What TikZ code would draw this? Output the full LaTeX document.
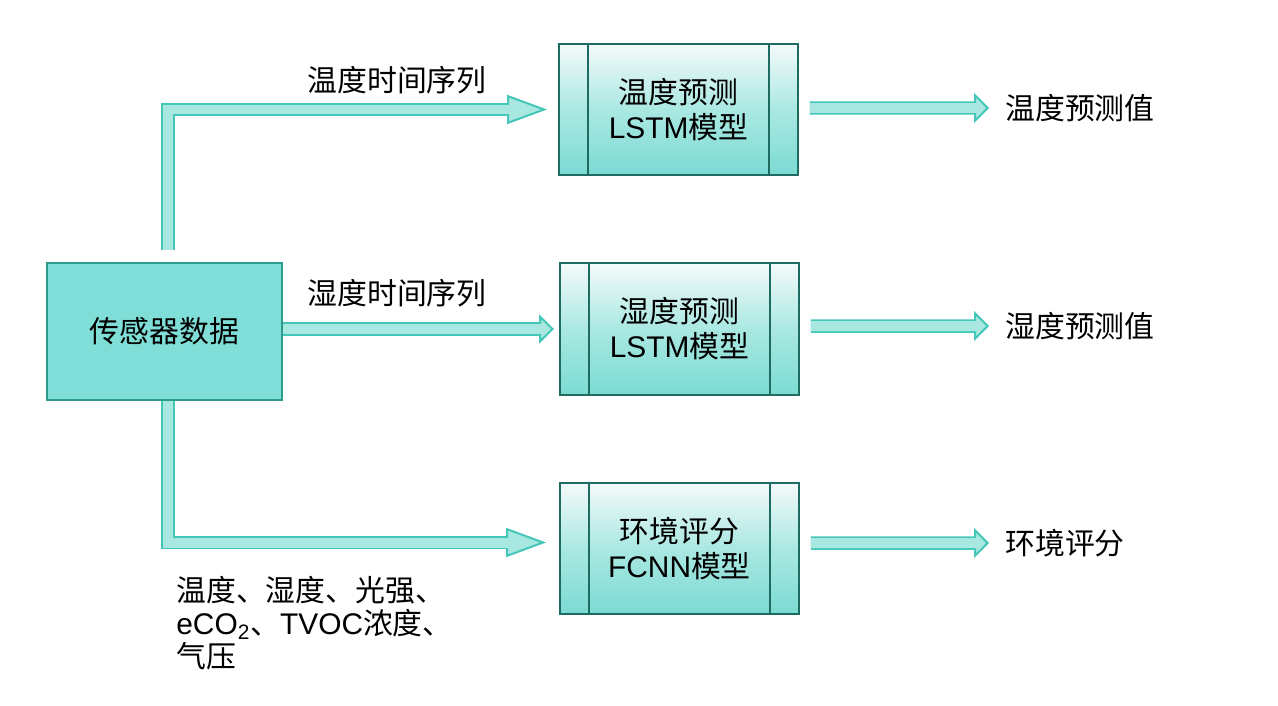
\documentclass[tikz,border=0pt]{standalone}
\usepackage{fontspec}
\setmainfont{Liberation Sans}
\newfontfamily\cjk{Noto Sans CJK SC}
\usepackage{tikz}
\usetikzlibrary{arrows.meta}
\definecolor{boxfill}{HTML}{7FDFD8}
\definecolor{srcline}{HTML}{2C9B8C}
\definecolor{modelline}{HTML}{1E6B61}
\definecolor{gradtop}{HTML}{F4FAFA}
\definecolor{gradmid}{HTML}{AAE8E2}
\definecolor{gradbot}{HTML}{7BDBD3}
\definecolor{arrowfill}{HTML}{A8E8E0}
\definecolor{arrowline}{HTML}{44C7B8}
\tikzset{
  source/.style={draw=srcline, line width=0.04cm, fill=boxfill, minimum width=4.7cm,
    minimum height=2.74cm, font=\fontsize{17}{20}\selectfont\cjk},
  model/.style={draw=modelline, line width=0.04cm, top color=gradtop, bottom color=gradbot,
    middle color=gradmid, minimum width=4.78cm, minimum height=2.64cm, align=center,
    font=\fontsize{17}{20}\selectfont},
  label/.style={inner sep=0pt, font=\fontsize{17}{18.7}\selectfont},
  flow/.style n args={3}{draw=arrowline, line width=0.27cm, line join=miter, shorten >=#1,
    -{Triangle[length=#2, width=#3, line width=0.04cm, fill=arrowfill]},
    postaction={draw=arrowfill, line width=0.2cm, -, shorten >=#1+#2-0.1cm}}
}

\begin{document}
\begin{tikzpicture}[x=0.02cm, y=-0.02cm]
\useasboundingbox (0,0) rectangle (1278,706);
\node[source] (src) at (164.5,331.5) {传感器数据};
\node[model] (temp) at (678.5,109.5) {{\cjk 温度预测}\\LSTM{\cjk 模型}};
\node[model] (hum) at (679.5,329) {{\cjk 湿度预测}\\LSTM{\cjk 模型}};
\node[model] (env) at (679.5,548.5) {{\cjk 环境评分}\\FCNN{\cjk 模型}};
\foreach \m in {temp, hum, env} {
  \draw[modelline, line width=0.04cm] ([xshift=0.6cm]\m.north west) -- ([xshift=0.6cm]\m.south west)
    ([xshift=-0.6cm]\m.north east) -- ([xshift=-0.6cm]\m.south east);
}

% labels
\node[label] (tempseq) at (397,80) {\cjk 温度时间序列};
\node[label] (humseq) at (397,293) {\cjk 湿度时间序列};
\node[label, anchor=north west, align=left] (inputs) at (176,576)
  {{\cjk 温度、湿度、光强、}\\eCO\textsubscript{2}{\cjk 、}TVOC{\cjk 浓度、}\\{\cjk 气压}};
\node[label, anchor=west] (tempout) at (1005,108) {\cjk 温度预测值};
\node[label, anchor=west] (humout) at (1005,326) {\cjk 湿度预测值};
\node[label, anchor=west] (envout) at (1005,543) {\cjk 环境评分};

% arrows
\draw[flow={0.22cm}{0.8cm}{0.58cm}, shorten <=0.24cm] ([xshift=0.07cm]src.north) |- (temp.west);
\draw[flow={0.1cm}{0.3cm}{0.58cm}] (src.east |- hum.west) -- (hum.west);
\draw[flow={0.26cm}{0.8cm}{0.58cm}] ([xshift=0.07cm]src.south) |- ([yshift=0.12cm]env.west);
\draw[flow={0.32cm}{0.3cm}{0.6cm}, shorten <=0.22cm] ([yshift=0.03cm]temp.east) -- (tempout.west);
\draw[flow={0.32cm}{0.3cm}{0.6cm}, shorten <=0.22cm] ([yshift=0.06cm]hum.east) -- (humout.west);
\draw[flow={0.32cm}{0.3cm}{0.6cm}, shorten <=0.22cm] ([yshift=0.11cm]env.east) -- (envout.west);
\end{tikzpicture}
\end{document}
